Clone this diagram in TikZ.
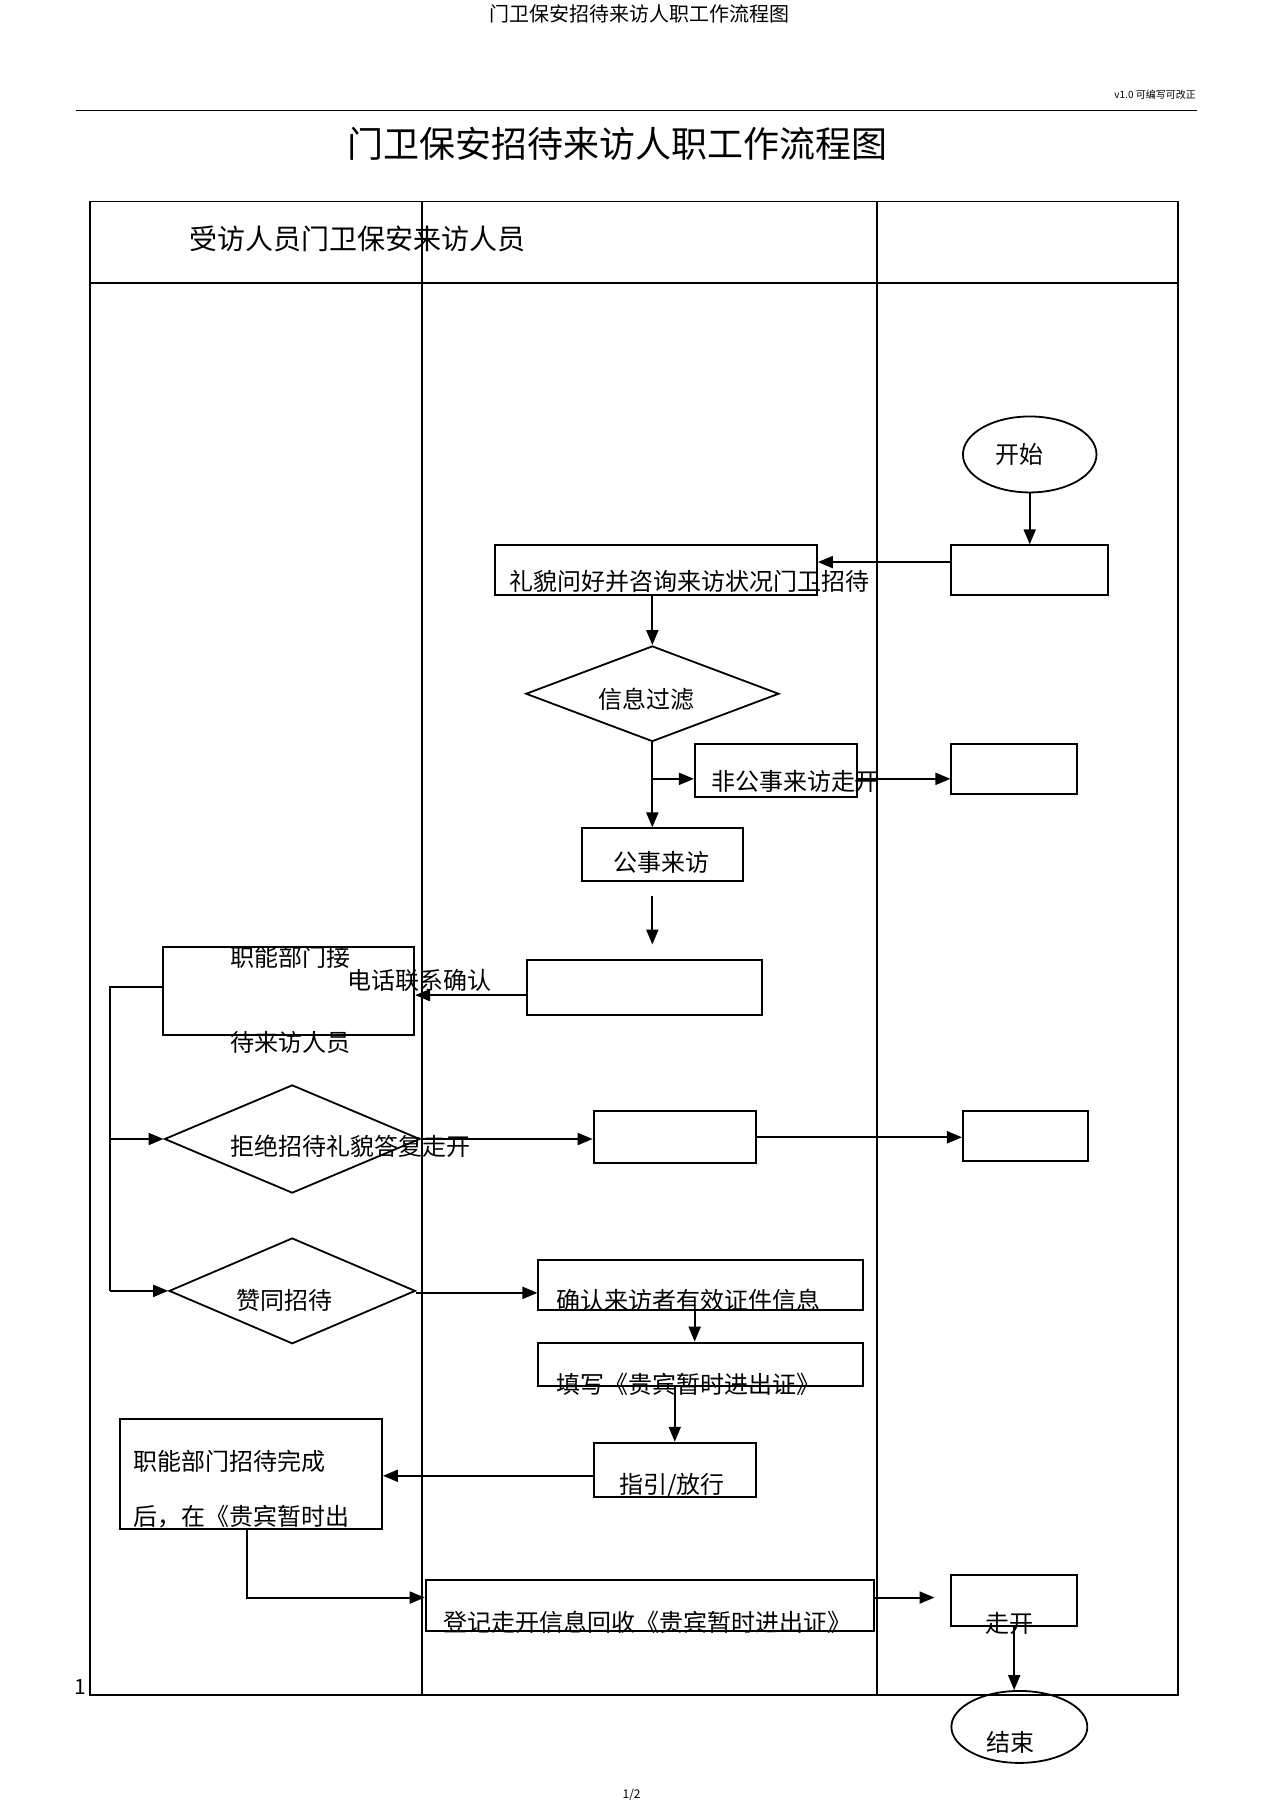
\documentclass[tikz,border=0pt]{standalone}
\usepackage{fontspec}
\setmainfont{Noto Sans CJK SC}
\usetikzlibrary{arrows.meta, positioning, shapes.geometric, fit}

\begin{document}
\begin{tikzpicture}[x=0.5755pt, y=-0.5755pt,
    box/.style={draw, line width=1pt, inner sep=0pt},
    decision/.style={draw, diamond, line width=0.9pt, inner sep=0pt},
    terminal/.style={draw, ellipse, line width=0.9pt, inner sep=0pt},
    txt/.style={font=\fontsize{12}{14}\selectfont, inner sep=0pt},
    arr/.style={line width=1pt, -{Triangle[length=7.5pt,width=6pt]}},
    lane/.style={line width=0.8pt}]
    \useasboundingbox (0,0) rectangle (1107,1568);

    % Page header
    \node[font=\fontsize{10}{12}\selectfont] (pagehead) at (556,12) {门卫保安招待来访人职工作流程图};
    \node[font=\fontsize{5}{6}\selectfont] (version) at (1004,82) {v1.0 可编写可改正};
    \draw[line width=0.6pt] (66,96) -- (1040,96);
    \node[font=\fontsize{18}{20}\selectfont] (title) at (537,125) {门卫保安招待来访人职工作流程图};

    % Swim lanes
    \draw[lane] (78,175) rectangle (1024,1473);
    \draw[lane] (78,246) -- (1024,246);
    \draw[lane] (367,175) -- (367,1473);
    \draw[lane] (762,175) -- (762,1473);
    \node[font=\fontsize{14}{16}\selectfont] (lanehead) at (311,208) {受访人员门卫保安来访人员};

    % Shapes
    \node[terminal, minimum width=66.8pt, minimum height=38pt] (start) at (895,395) {};
    \node[box, fit={(827,474) (963,517)}] (arrive) {};
    \node[box, fit={(430,474) (710,517)}] (greet) {};
    \node[decision, minimum width=126.6pt, minimum height=47.8pt] (filter) at (567,603) {};
    \node[box, fit={(604,647) (745,693)}] (private) {};
    \node[box, fit={(827,647) (936,690)}] (leaveA) {};
    \node[box, fit={(506,720) (646,766)}] (official) {};
    \node[box, fit={(458,834) (662,882)}] (phone) {};
    \node[box, fit={(142,823) (360,900)}] (dept) {};
    \node[decision, minimum width=127.8pt, minimum height=54.1pt] (refuse) at (254,990) {};
    \node[box, fit={(516,966) (657,1011)}] (reply) {};
    \node[box, fit={(837,966) (946,1009)}] (leaveB) {};
    \node[decision, minimum width=123.2pt, minimum height=52.9pt] (agree) at (254,1122) {};
    \node[box, fit={(468,1095) (750,1139)}] (verify) {};
    \node[box, fit={(468,1167) (750,1205)}] (pass) {};
    \node[box, fit={(516,1254) (657,1301)}] (guide) {};
    \node[box, fit={(104,1233) (332,1329)}] (done) {};
    \node[box, fit={(370,1373) (760,1418)}] (register) {};
    \node[box, fit={(827,1369) (936,1413)}] (leaveC) {};
    \node[terminal, minimum width=68pt, minimum height=36pt] (finish) at (886,1501) {};

    % Texts
    \node[txt] (starttxt) at (886,395) {开始};
    \node[txt] (greettxt) at (599,505) {礼貌问好并咨询来访状况门卫招待};
    \node[txt] (filtertxt) at (562,608) {信息过滤};
    \node[txt] (privatetxt) at (691,679) {非公事来访走开};
    \node[txt] (officialtxt) at (575,750) {公事来访};
    \node[txt] (phonetxt) at (365,852) {电话联系确认};
    \node[txt, anchor=west] (depttxtA) at (200,832) {职能部门接};
    \node[txt, anchor=west] (depttxtB) at (200,906) {待来访人员};
    \node[txt] (refusetxt) at (305,996) {拒绝招待礼貌答复走开};
    \node[txt] (agreetxt) at (247,1130) {赞同招待};
    \node[txt, anchor=west] (verifytxt) at (483,1130) {确认来访者有效证件信息};
    \node[txt, anchor=west] (passtxt) at (483,1203) {填写《贵宾暂时进出证》};
    \node[txt] (guidetxt) at (584,1291) {指引/放行};
    \node[txt, anchor=west] (donetxtA) at (116,1270) {职能部门招待完成};
    \node[txt, anchor=west] (donetxtB) at (116,1318) {后，在《贵宾暂时出};
    \node[txt, anchor=west] (registertxt) at (385,1410) {登记走开信息回收《贵宾暂时进出证》};
    \node[txt] (leaveCtxt) at (877,1411) {走开};
    \node[txt] (finishtxt) at (878,1514) {结束};
    \node[font=\fontsize{10.5}{12}\selectfont, inner sep=0pt] (pageno) at (70,1466) {1};
    \node[font=\fontsize{6}{7}\selectfont, inner sep=0pt] (pagecount) at (549,1560) {1/2};

    % Connectors
    \draw[arr] (start) -- (arrive);
    \draw[arr] ([yshift=4pt]arrive.west) -- ([yshift=4pt]greet.east);
    \draw[arr] (filter.north |- greet.south) -- (filter.north);
    \draw[arr] (filter.south) -- (filter.south |- official.north);
    \draw[arr] ([yshift=-4pt]filter.south |- private.west) -- ([yshift=-4pt]private.west);
    \draw[arr] ([yshift=-4pt]private.east) -- ([yshift=-4pt]private.east -| leaveA.west);
    \draw[arr] ([yshift=-7pt]filter.south |- official.south) -- ([yshift=7pt]filter.south |- phone.north);
    \draw[arr] ([yshift=-4pt]phone.west) -- ([yshift=-4pt]phone.west -| dept.east);
    \coordinate (rail) at (96,858);
    \draw[line width=1pt] (dept.west |- rail) -- (rail) -- (rail |- agree.west);
    \draw[arr] (rail |- refuse.west) -- (refuse.west);
    \draw[arr] (rail |- agree.west) -- (agree.west);
    \draw[arr] (refuse.east) -- (refuse.east -| reply.west);
    \draw[arr] (reply.east) -- (reply.east -| leaveB.west);
    \draw[arr] ([yshift=-1pt]agree.east) -- ([yshift=-1pt]agree.east -| verify.west);
    \draw[arr] ([xshift=-3pt]verify.south) -- ([xshift=-3pt]pass.north);
    \draw[arr] (guide.north |- pass.south) -- (guide.north);
    \draw[arr] ([yshift=-3pt]guide.west) -- ([yshift=-3pt]guide.west -| done.east);
    \draw[arr] ([xshift=-2pt]done.south) |- ([yshift=4pt]register.west);
    \draw[arr] ([yshift=4pt]register.east) -- ([yshift=4pt,xshift=-8pt]register.east -| leaveC.west);
    \draw[arr] (leaveC.south) -- (leaveC.south |- finish.north);
\end{tikzpicture}
\end{document}
